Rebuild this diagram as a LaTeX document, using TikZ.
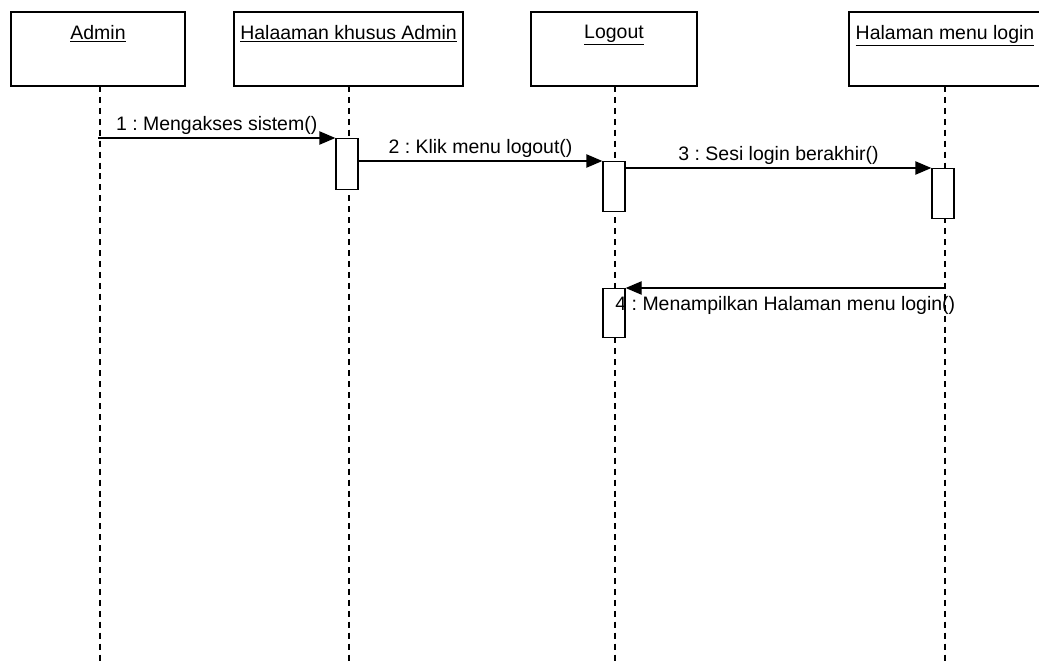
\documentclass[tikz,border=0pt]{standalone}
\usepackage{fontspec}
\setmainfont{Liberation Sans}
\usetikzlibrary{arrows.meta}
\frenchspacing

\begin{document}
\begin{tikzpicture}[x=0.75pt,y=-0.75pt,
    font=\fontsize{14.6}{17}\selectfont,
    objbox/.style={draw,line width=1pt,minimum width=174*0.75pt,minimum height=74*0.75pt,inner sep=0pt},
    actbox/.style={draw,fill=white,line width=1pt,anchor=north,minimum width=22*0.75pt,minimum height=50*0.75pt,inner sep=0pt},
    lifeline/.style={line width=1.1pt,dash pattern=on 4.5pt off 3.7pt},
    msg/.style={line width=1pt,-{Triangle[length=12pt,width=10pt]}},
    msglabel/.style={inner sep=2pt}]

  % -------- INPUT --------
  \def\Top{12}           % top of the object boxes
  \def\Bot{664}          % end of the lifelines

  \useasboundingbox (0,0) rectangle (1039,\Bot);

  % Object boxes, name on top
  \node[objbox] (admin)  at (98,49)  {};
  \node[objbox,minimum width=229*0.75pt] (hal) at (348.5,49) {};
  \node[objbox,minimum width=166*0.75pt] (logout) at (614,49) {};
  \node[objbox,minimum width=192*0.75pt] (login)  at (945,49) {};

  \foreach \obj/\name in {admin/Admin,hal/Halaaman khusus Admin,logout/Logout,login/Halaman menu login} {
      \node[anchor=north,inner sep=0pt] (\obj-name) at ([yshift=-10pt]\obj.north) {\underline{\name}};
  }

  % Lifelines
  \draw[lifeline] (100,86) -- (100,\Bot);
  \draw[lifeline] (349,86) -- (349,\Bot);
  \draw[lifeline] (615,86) -- (615,\Bot);
  \draw[lifeline] (945,86) -- (945,\Bot);

  % Activation bars
  \node[actbox,minimum height=51*0.75pt] (act1) at (347,138) {};
  \node[actbox] (act2) at (614,161) {};
  \node[actbox] (act3) at (943,168) {};
  \node[actbox,minimum height=49*0.75pt] (act4) at (614,288) {};

  % ---------- Messages ----------
  \draw[msg] (admin.south |- act1.north) -- (act1.north west)
      node[midway,above,msglabel] {1 : Mengakses sistem()};
  \draw[msg] (act1.east |- act2.north) -- (act2.north west)
      node[midway,above,msglabel] {2 : Klik menu logout()};
  \draw[msg] (act2.east |- act3.north) -- (act3.north west)
      node[midway,above,msglabel] {3 : Sesi login berakhir()};
  \draw[msg] (login.south |- act4.north) -- (act4.north east)
      node[midway,below,msglabel,yshift=-4pt] {4 : Menampilkan Halaman menu login()};

\end{tikzpicture}
\end{document}
